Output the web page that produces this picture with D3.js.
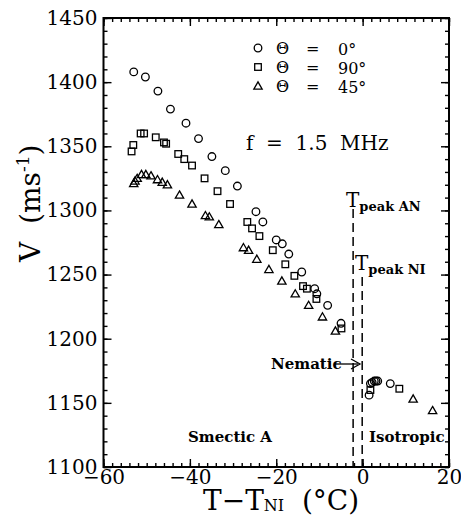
<!DOCTYPE html>
<html><head><meta charset="utf-8">
<script src="https://cdn.jsdelivr.net/npm/d3@7/dist/d3.min.js"></script>
<style>body{margin:0;background:#fff}svg{display:block}text{font-family:"DejaVu Serif",serif;fill:#000}</style>
</head><body><svg id="c" width="461" height="522"></svg>
<script>
// Θ = 0° (circles)
const t0 = [-53.0,-50.3,-47.4,-44.5,-40.9,-38.0,-34.9,-31.8,-29.0,-24.7,-23.1,-20.0,-18.6,-17.1,-14.1,-11.1,-10.6,-8.1,-5.0, 1.5,1.8,2.2,2.7,3.1,3.5,6.4];
const v0 = [1408,1404,1393,1379,1368,1356,1342,1331,1319,1299,1291,1277,1274,1266,1252,1239,1235,1226,1212, 1156,1165,1166,1167,1167,1167,1165];
// Θ = 90° (squares)
const t90 = [-53.5,-53.1,-51.4,-50.6,-47.9,-46.0,-45.5,-42.7,-41.3,-39.5,-36.6,-33.6,-30.7,-26.7,-25.6,-23.9,-20.8,-17.9,-15.8,-13.8,-12.9,-10.7,-4.9, 1.8,8.5];
const v90 = [1346,1351,1360,1360,1357,1353,1352,1344,1340,1335,1325,1315,1305,1291,1286,1280,1269,1258,1249,1241,1239,1231,1208, 1160,1161];
// Θ = 45° (triangles)
const t45 = [-53.0,-52.7,-52.2,-51.2,-50.2,-49.0,-47.5,-46.4,-45.2,-42.4,-39.5,-36.4,-35.5,-33.3,-27.6,-26.4,-24.5,-21.7,-18.7,-15.6,-12.5,-9.3,-6.3, 11.7,16.2];
const v45 = [1321,1323,1325,1328,1328,1327,1324,1322,1320,1312,1305,1296,1295,1289,1271,1269,1262,1254,1245,1235,1226,1217,1206, 1153,1144];
const xTicks = [-60,-40,-20,0,20];
const yTicks = [1100,1150,1200,1250,1300,1350,1400,1450];
const legendLabels = ["0°","90°","45°"];
const tPeakAN = -2.2, tPeakNI = -0.1;

const svg = d3.select("#c");
const L=103.5, R=449, T=18, B=467;
const x = d3.scaleLinear().domain([-60,20]).range([L,R]);
const y = d3.scaleLinear().domain([1100,1450]).range([B,T]);

function ax(gen, tr, vals, size, fmt){
  const g = svg.append("g").attr("transform",tr)
    .call(gen.tickValues(vals).tickSize(size).tickSizeOuter(0).tickFormat(fmt));
  g.select(".domain").remove();
  g.selectAll("line").attr("stroke","#000").attr("stroke-width",1.4);
  return g;
}
const xMinor = d3.range(-60,20.1,2), yMinor = d3.range(1100,1450.1,10);
ax(d3.axisBottom(x), `translate(0,${B})`, xMinor, -4, "");
ax(d3.axisTop(x), `translate(0,${T})`, xMinor, -4, "");
ax(d3.axisLeft(y), `translate(${L},0)`, yMinor, -4, "");
ax(d3.axisRight(y), `translate(${R},0)`, yMinor, -4, "");
const gx = ax(d3.axisBottom(x).tickPadding(3), `translate(0,${B})`, xTicks, -8, d3.format("d"));
gx.selectAll("text").attr("font-size",20).attr("font-family","DejaVu Serif");
const gy = ax(d3.axisLeft(y).tickPadding(6), `translate(${L},0)`, yTicks, -8, d3.format("d"));
gy.selectAll("text").attr("font-size",20).attr("font-family","DejaVu Serif");
ax(d3.axisTop(x), `translate(0,${T})`, xTicks, -8, "");
ax(d3.axisRight(y), `translate(${R},0)`, yTicks, -8, "");
svg.append("rect").attr("x",L).attr("y",T).attr("width",R-L).attr("height",B-T)
  .attr("fill","none").attr("stroke","#000").attr("stroke-width",2);

// data
const g = svg.append("g").attr("fill","none").attr("stroke","#000").attr("stroke-width",1.3);
g.selectAll("circle.d").data(d3.zip(t0,v0)).join("circle")
  .attr("cx",d=>x(d[0])).attr("cy",d=>y(d[1])).attr("r",3.8);
g.selectAll("rect.d").data(d3.zip(t90,v90)).join("rect")
  .attr("x",d=>x(d[0])-3.3).attr("y",d=>y(d[1])-3.3).attr("width",6.6).attr("height",6.6);
const tri = d3.symbol().type(d3.symbolTriangle).size(30);
g.selectAll("path.d").data(d3.zip(t45,v45)).join("path")
  .attr("transform",d=>`translate(${x(d[0])},${y(d[1])+0.7})`).attr("d",tri);

// dashed lines
svg.append("line").attr("x1",x(tPeakAN)).attr("x2",x(tPeakAN)).attr("y1",209).attr("y2",B)
  .attr("stroke","#000").attr("stroke-width",1.5).attr("stroke-dasharray","9,5");
svg.append("line").attr("x1",x(tPeakNI)).attr("x2",x(tPeakNI)).attr("y1",277).attr("y2",B)
  .attr("stroke","#000").attr("stroke-width",1.5).attr("stroke-dasharray","9,5");

// labels
const tAN = svg.append("text").attr("x",346).attr("y",207);
tAN.append("tspan").attr("font-size",20).text("T");
tAN.append("tspan").attr("font-size",13).attr("font-weight","bold").attr("dy",4).text("peak AN");
const tNI = svg.append("text").attr("x",355).attr("y",270);
tNI.append("tspan").attr("font-size",20).text("T");
tNI.append("tspan").attr("font-size",13).attr("font-weight","bold").attr("dy",4).text("peak NI");

svg.append("text").attr("x",271).attr("y",369).attr("font-size",15).attr("font-weight","bold").text("Nematic");
svg.append("line").attr("x1",335).attr("x2",358).attr("y1",364).attr("y2",364).attr("stroke","#000").attr("stroke-width",1.3);
svg.append("path").attr("d","M351,359 L360,364 L351,369").attr("fill","none").attr("stroke","#000").attr("stroke-width",1.3);

svg.append("text").attr("x",188).attr("y",442).attr("font-size",15).attr("font-weight","bold").text("Smectic A");
svg.append("text").attr("x",369).attr("y",442).attr("font-size",15).attr("font-weight","bold").text("Isotropic");

svg.append("text").attr("x",246).attr("y",150).attr("font-size",20)
  .attr("xml:space","preserve").text("f  =  1.5  MHz");

// legend
const lg = svg.append("g");
const ly = [48,67,86];
lg.append("circle").attr("cx",258).attr("cy",ly[0]).attr("r",3.8).attr("fill","none").attr("stroke","#000").attr("stroke-width",1.3);
lg.append("rect").attr("x",254.7).attr("y",ly[1]-3.3).attr("width",6.6).attr("height",6.6).attr("fill","none").attr("stroke","#000").attr("stroke-width",1.3);
lg.append("path").attr("transform",`translate(258,${ly[2]+0.7})`).attr("d",tri).attr("fill","none").attr("stroke","#000").attr("stroke-width",1.3);
legendLabels.forEach((lab,i)=>{
  lg.append("text").attr("x",276).attr("y",ly[i]+6).attr("font-size",16).text("Θ");
  lg.append("text").attr("x",306).attr("y",ly[i]+6).attr("font-size",16).text("=");
  lg.append("text").attr("x",338).attr("y",ly[i]+7).attr("font-size",16).text(lab);
});

// axis titles
const xt = svg.append("text").attr("x",203).attr("y",510).attr("font-size",28).attr("font-family","Liberation Serif");
xt.append("tspan").text("T−T");
xt.append("tspan").attr("font-size",16).attr("dy",1).text("NI");
xt.append("tspan").attr("dy",-1).attr("xml:space","preserve").text("  (°C)");

const yt = svg.append("text").attr("transform","translate(40,262) rotate(-90)").attr("font-size",28).attr("font-family","Liberation Serif");
yt.append("tspan").text("V");
yt.append("tspan").attr("xml:space","preserve").text("  (ms");
yt.append("tspan").attr("font-size",17).attr("dy",-11).text("-1");
yt.append("tspan").attr("dy",11).text(")");
</script></body></html>
